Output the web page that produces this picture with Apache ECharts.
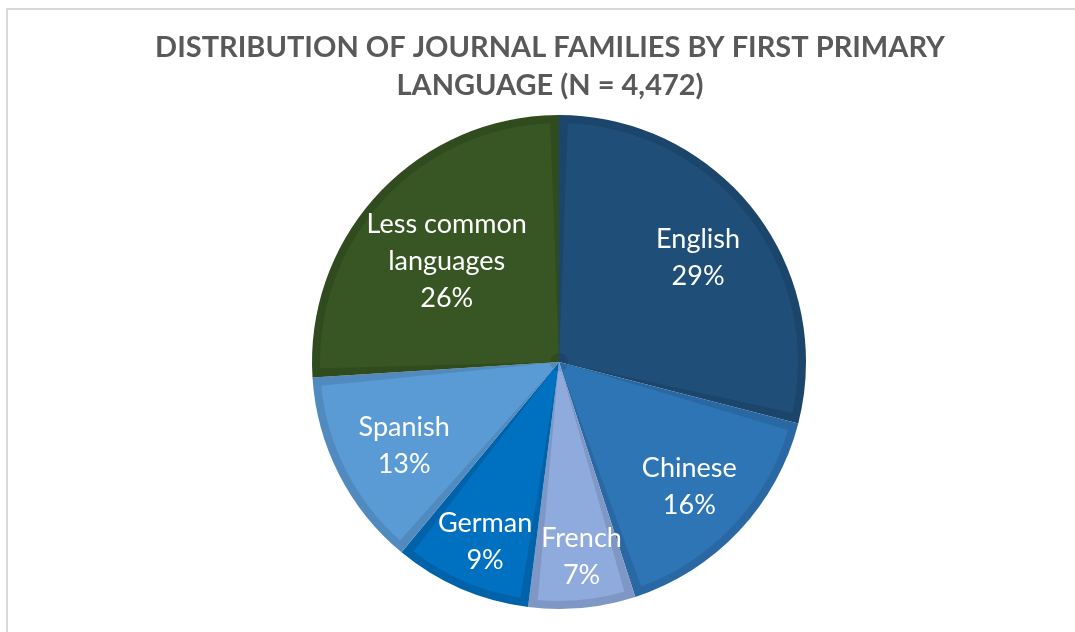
<!DOCTYPE html>
<html>
<head>
<meta charset="utf-8">
<title>Journal families by first primary language</title>
<script src="https://cdn.jsdelivr.net/npm/echarts@6/dist/echarts.min.js"></script>
<style>
  html, body { margin: 0; padding: 0; background: #ffffff; }
  #chart { width: 1075px; height: 632px; }
</style>
</head>
<body>
<div id="chart"></div>
<script>
// Share of journal families by first primary language (percent, N = 4,472)
const languages = ['English', 'Chinese', 'French', 'German', 'Spanish', 'Less common\nlanguages'];
const shares = [29, 16, 7, 9, 13, 26];

// Slice fills and the darker bevel shade drawn round each slice
const fillColors = ['#1F4E79', '#2E75B6', '#8FAADC', '#0070C0', '#5B9BD5', '#375623'];
const edgeColors = ['#1B456B', '#2968A2', '#7E97C5', '#0063AA', '#518ABF', '#304C1F'];

// Small label shifts so each label sits clear of its slice edges
const labelShift = {
  'English': [0, 4],
  'Chinese': [2, 4],
  'French': [6, 20],
  'German': [-4, 18],
  'Spanish': [2, 4],
  'Less common\nlanguages': [16, 20]
};

const center = [559, 362];
const R = 247;
const bevel = 8;

const chart = echarts.init(document.getElementById('chart'), null, { renderer: 'canvas' });

function sliceData(colors) {
  return languages.map((name, i) => ({
    name: name,
    value: shares[i],
    itemStyle: { color: colors[i] }
  }));
}

const option = {
  backgroundColor: '#ffffff',
  animation: false,
  title: {
    text: 'DISTRIBUTION OF JOURNAL FAMILIES BY FIRST PRIMARY\nLANGUAGE (N = 4,472)',
    left: 545,
    top: 24,
    textAlign: 'center',
    textStyle: {
      fontFamily: 'Lato',
      fontWeight: 'bold',
      fontSize: 29,
      lineHeight: 38,
      color: '#595959'
    }
  },
  graphic: [{
    type: 'rect',
    silent: true,
    shape: { x: 7, y: 9, width: 1200, height: 800 },
    style: { fill: 'none', stroke: '#D9D9D9', lineWidth: 2 }
  }],
  series: [
    {
      // dark base: shows through as the bevel band
      type: 'pie',
      center: center,
      radius: [0, R],
      startAngle: 90,
      clockwise: true,
      silent: true,
      label: { show: false },
      labelLine: { show: false },
      data: sliceData(edgeColors)
    },
    {
      // lighter slice faces, inset from the outer rim and split apart
      type: 'pie',
      center: center,
      radius: [9, R - bevel],
      startAngle: 90,
      clockwise: true,
      padAngle: 4.2,
      silent: true,
      label: { show: false },
      labelLine: { show: false },
      data: sliceData(fillColors)
    },
    {
      // transparent ring that carries the labels
      type: 'pie',
      center: center,
      radius: [Math.round(R * 0.42), Math.round(R * 0.98)],
      startAngle: 90,
      clockwise: true,
      silent: true,
      itemStyle: { color: 'rgba(0,0,0,0)' },
      label: {
        show: true,
        position: 'inside',
        formatter: p => p.name + '\n' + p.value + '%',
        fontFamily: 'Lato',
        fontSize: 27,
        lineHeight: 37,
        color: '#ffffff',
        align: 'center'
      },
      labelLine: { show: false },
      labelLayout: function (params) {
        const s = labelShift[languages[params.dataIndex]] || [0, 0];
        return { dx: s[0], dy: s[1] };
      },
      data: languages.map((name, i) => ({ name: name, value: shares[i] }))
    }
  ]
};

chart.setOption(option);
</script>
</body>
</html>
